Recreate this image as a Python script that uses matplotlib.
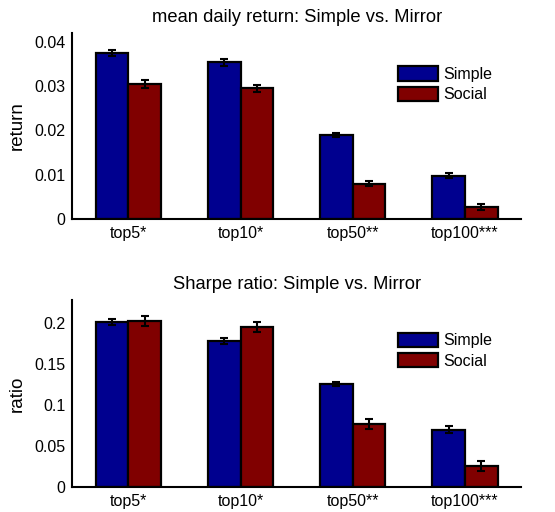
import numpy as np
import matplotlib.pyplot as plt

plt.rcParams['font.family'] = ['Liberation Sans', 'DejaVu Sans']
plt.rcParams['font.size'] = 11.5

groups = ['top5*', 'top10*', 'top50**', 'top100***']
series = ['Simple', 'Social']
colors = ['#00008F', '#800000']

ret_simple = [0.0375, 0.0353, 0.0189, 0.0098]
ret_social = [0.0305, 0.0295, 0.0080, 0.0027]
ret_simple_err = [0.0007, 0.0007, 0.0005, 0.0005]
ret_social_err = [0.0009, 0.0008, 0.0005, 0.0006]

sr_simple = [0.201, 0.178, 0.1256, 0.070]
sr_social = [0.202, 0.195, 0.0772, 0.0252]
sr_simple_err = [0.004, 0.004, 0.003, 0.004]
sr_social_err = [0.006, 0.006, 0.006, 0.006]

fig = plt.figure(figsize=(5.55, 5.12), dpi=100)
ax1 = fig.add_axes([0.130, 0.572, 0.809, 0.364])
ax2 = fig.add_axes([0.130, 0.049, 0.809, 0.365])

x = np.arange(1, len(groups) + 1)
w = 0.29


def draw(ax, a, b, ea, eb, title, ylabel, ylim, yticks, yticklabels, legy):
    ax.bar(x - w / 2, a, w, color=colors[0], edgecolor='black', linewidth=1.6, label=series[0], zorder=2)
    ax.bar(x + w / 2, b, w, color=colors[1], edgecolor='black', linewidth=1.6, label=series[1], zorder=2)
    ax.errorbar(x - w / 2, a, yerr=ea, fmt='none', ecolor='black', elinewidth=1.5, capsize=3, capthick=1.5, zorder=3)
    ax.errorbar(x + w / 2, b, yerr=eb, fmt='none', ecolor='black', elinewidth=1.5, capsize=3, capthick=1.5, zorder=3)
    ax.set_xlim(0.5, 4.5)
    ax.set_ylim(*ylim)
    ax.set_xticks(x)
    ax.set_xticklabels(groups)
    ax.set_yticks(yticks)
    ax.set_yticklabels(yticklabels)
    ax.tick_params(length=0, pad=5)
    ax.spines['top'].set_visible(False)
    ax.spines['right'].set_visible(False)
    ax.spines['left'].set_linewidth(1.5)
    ax.spines['bottom'].set_linewidth(1.5)
    ax.set_title(title, fontsize=13.2, pad=8)
    ax.set_ylabel(ylabel, fontsize=13.5, labelpad=6)
    ax.legend(loc='upper left', bbox_to_anchor=(0.726, legy), frameon=False,
              fontsize=11.5, handlelength=2.5, handleheight=1.0, handletextpad=0.3,
              labelspacing=0.3, borderpad=0, borderaxespad=0)


draw(ax1, ret_simple, ret_social, ret_simple_err, ret_social_err,
     'mean daily return: Simple vs. Mirror', 'return', (0, 0.042),
     [0, 0.01, 0.02, 0.03, 0.04], ['0', '0.01', '0.02', '0.03', '0.04'], 0.82)
draw(ax2, sr_simple, sr_social, sr_simple_err, sr_social_err,
     'Sharpe ratio: Simple vs. Mirror', 'ratio', (0, 0.228),
     [0, 0.05, 0.1, 0.15, 0.2], ['0', '0.05', '0.1', '0.15', '0.2'], 0.825)

plt.savefig('out.png', dpi=100)
